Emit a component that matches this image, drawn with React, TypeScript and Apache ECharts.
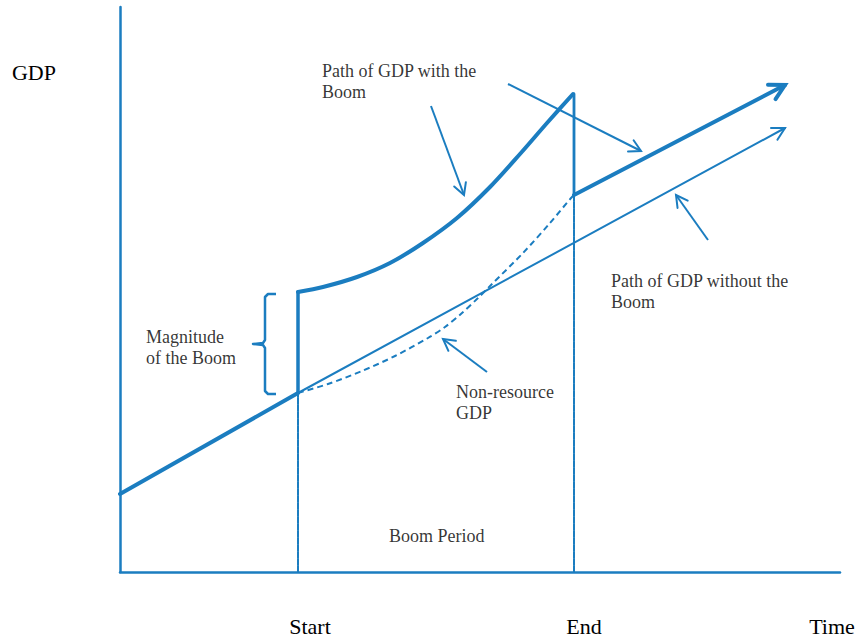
import React, { useEffect, useRef } from "react";
import * as echarts from "echarts";

// Conceptual units: time 0..720, GDP 0..565
const timeRange = [0, 720];
const gdpRange = [0, 565];

const xTickValues = [190, 464, 712];
const xTickLabels = ["Start", "End", "Time"];
const yTickValues = [500];
const yTickLabels = ["GDP"];

// Paths
const baseBefore = [[0, 78], [178, 179]];
const baseAfter = [[178, 179], [665, 444]];
const boomJump = [[178, 179], [178, 280]];
const boomPath = [[178, 280], [203, 285], [237, 295], [270, 309], [303, 329], [337, 354], [370, 385], [400, 418], [427, 449], [453, 478]];
const boomEndDrop = [[454, 478], [454, 377]];
const postBoom = [[454, 377], [665, 487]];
const nonResource = [[178, 179], [208, 188], [242, 201], [275, 216], [308, 234], [325, 245], [342, 259], [358, 274], [372, 288], [403, 319], [430, 349], [452, 375], [455, 377]];
const startGuide = [[178, 0], [178, 179]];
const endGuide = [[454, 0], [454, 377]];

// Annotation arrows: [fromX, fromY, toX, toY]
const annotationArrows = [
  [311, 466, 344, 377],
  [388, 488, 521, 421],
  [588, 332, 556, 377],
  [367, 200, 323, 233],
];

// Brace: [x, yLow, yHigh]
const braces = [[145, 178, 278]];

// Text annotations: [x, y (top-left), text]
const notes: [number, number, string][] = [
  [202, 511, "Path of GDP with the\nBoom"],
  [491, 301, "Path of GDP without the\nBoom"],
  [26, 245, "Magnitude\nof the Boom"],
  [336, 190, "Non-resource\nGDP"],
  [269, 46, "Boom Period"],
];

const COLOR = "#1b7dc0";
const FONT = "'Liberation Serif', 'Times New Roman', serif";

function headPoints(a: number[], b: number[], L: number, phi: number) {
  const ang = Math.atan2(b[1] - a[1], b[0] - a[0]);
  return [
    [b[0] - L * Math.cos(ang - phi), b[1] - L * Math.sin(ang - phi)],
    [b[0], b[1]],
    [b[0] - L * Math.cos(ang + phi), b[1] - L * Math.sin(ang + phi)],
  ];
}

function lineSeries(data: number[][], width: number, extra: any = {}) {
  return {
    type: "line",
    data,
    symbol: "none",
    silent: true,
    lineStyle: { color: COLOR, width, cap: "round", join: "round", ...(extra.lineStyle || {}) },
    smooth: extra.smooth || false,
    z: extra.z || 3,
  };
}

function headSeries(segs: number[][][], width: number, L: number) {
  return {
    type: "custom",
    silent: true,
    data: segs.map((s) => [s[s.length - 2][0], s[s.length - 2][1], s[s.length - 1][0], s[s.length - 1][1]]),
    renderItem: (_p: any, api: any) => {
      const a = api.coord([api.value(0), api.value(1)]);
      const b = api.coord([api.value(2), api.value(3)]);
      return {
        type: "polyline",
        shape: { points: headPoints(a, b, L, 0.5) },
        style: { stroke: COLOR, lineWidth: width, fill: null, lineCap: "round", lineJoin: "miter" },
      };
    },
    z: 4,
  };
}

export default function App() {
  const ref = useRef<HTMLDivElement>(null);
  useEffect(() => {
    if (!ref.current) return;
    const chart = echarts.init(ref.current, null, { renderer: "svg" });
    chart.setOption({
      animation: false,
      backgroundColor: "#ffffff",
      grid: { left: 120, right: 18, top: 7, bottom: 67 },
      xAxis: {
        type: "value",
        min: timeRange[0],
        max: timeRange[1],
        splitLine: { show: false },
        axisTick: { show: false },
        axisLine: { show: true, lineStyle: { color: COLOR, width: 2.5 } },
        axisLabel: {
          customValues: xTickValues,
          formatter: (v: number) => xTickLabels[xTickValues.indexOf(v)] ?? "",
          color: "#000",
          fontFamily: FONT,
          fontSize: 22,
          margin: 43,
        },
      },
      yAxis: {
        type: "value",
        min: gdpRange[0],
        max: gdpRange[1],
        splitLine: { show: false },
        axisTick: { show: false },
        axisLine: { show: true, lineStyle: { color: COLOR, width: 2.5 } },
        axisLabel: {
          customValues: yTickValues,
          formatter: (v: number) => yTickLabels[yTickValues.indexOf(v)] ?? "",
          color: "#000",
          fontFamily: FONT,
          fontSize: 22,
          margin: 64,
        },
      },
      series: [
        lineSeries(startGuide, 2, { lineStyle: { type: [6, 1] }, z: 2 }),
        lineSeries(endGuide, 2, { lineStyle: { type: [6, 1] }, z: 2 }),
        lineSeries(baseBefore, 4),
        lineSeries(baseAfter, 2),
        lineSeries(boomJump, 3.5),
        lineSeries(boomPath, 4, { smooth: 0.3 }),
        lineSeries(boomEndDrop, 2.8),
        lineSeries(postBoom, 4),
        lineSeries(nonResource, 2, { smooth: 0.3, lineStyle: { type: [6, 4], cap: "butt" } }),
        headSeries([postBoom], 4, 17),
        headSeries([baseAfter], 2, 14),
        {
          type: "custom",
          silent: true,
          data: annotationArrows,
          renderItem: (_p: any, api: any) => {
            const a = api.coord([api.value(0), api.value(1)]);
            const b = api.coord([api.value(2), api.value(3)]);
            return {
              type: "group",
              children: [
                { type: "line", shape: { x1: a[0], y1: a[1], x2: b[0], y2: b[1] }, style: { stroke: COLOR, lineWidth: 2 } },
                {
                  type: "polyline",
                  shape: { points: headPoints(a, b, 13, 0.5) },
                  style: { stroke: COLOR, lineWidth: 2, fill: null, lineCap: "round" },
                },
              ],
            };
          },
          z: 4,
        },
        {
          type: "custom",
          silent: true,
          data: braces,
          renderItem: (_p: any, api: any) => {
            const top = api.coord([api.value(0), api.value(2)]);
            const bot = api.coord([api.value(0), api.value(1)]);
            const X = top[0];
            const yT = top[1];
            const yB = bot[1];
            const yM = (yT + yB) / 2;
            return {
              type: "polyline",
              shape: {
                points: [
                  [X + 11, yT], [X + 3, yT], [X, yT + 3], [X, yM - 4], [X - 2, yM - 1], [X - 12, yM],
                  [X - 2, yM + 1], [X, yM + 4], [X, yB - 3], [X + 3, yB], [X + 11, yB],
                ],
              },
              style: { stroke: COLOR, lineWidth: 2.5, fill: null, lineJoin: "round" },
            };
          },
          z: 4,
        },
        {
          type: "scatter",
          silent: true,
          symbolSize: 0.1,
          itemStyle: { color: "transparent" },
          data: notes.map((n) => ({ value: [n[0], n[1]], name: n[2] })),
          label: {
            show: true,
            position: [0, 0],
            align: "left",
            verticalAlign: "top",
            formatter: (p: any) => p.name,
            color: "#000",
            fontFamily: FONT,
            fontSize: 18,
            lineHeight: 21,
          },
          z: 5,
        },
      ],
    });
    return () => chart.dispose();
  }, []);
  return <div ref={ref} style={{ width: 858, height: 639, position: "absolute", left: 0, top: 0 }} />;
}
